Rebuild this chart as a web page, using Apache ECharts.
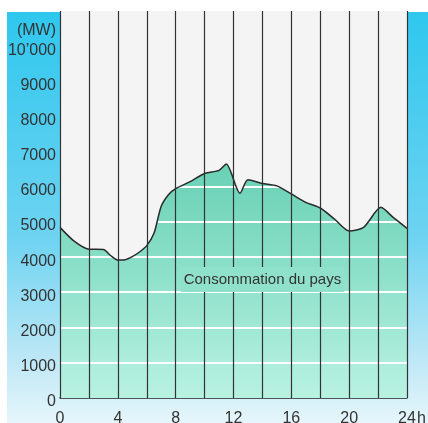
<!DOCTYPE html>
<html>
<head>
<meta charset="utf-8">
<script src="https://cdn.jsdelivr.net/npm/echarts@6/dist/echarts.min.js"></script>
<style>
  html, body { margin: 0; padding: 0; background: #fff; }
  #chart { width: 428px; height: 423px; }
</style>
</head>
<body>
<div id="chart"></div>
<script>
// hour of day -> national consumption in MW
const hours = [0, 1, 2, 3, 3.5, 4, 4.5, 5, 5.5, 6, 6.5, 7, 7.5, 8, 9, 10, 11, 11.5, 12.45, 13, 14, 15, 16, 17, 18, 19, 20, 21, 22.2, 23, 24];
const power = [4850, 4450, 4230, 4220, 4050, 3920, 3930, 4020, 4150, 4330, 4680, 5450, 5780, 5950, 6150, 6380, 6470, 6650, 5820, 6200, 6100, 6030, 5800, 5560, 5400, 5080, 4750, 4850, 5420, 5150, 4820];
const hourLines = [0, 2, 4, 6, 8, 10, 12, 14, 16, 18, 20, 22, 24];
const bandValues = [1000, 2000, 3000, 4000, 5000, 6000];
const areaLabel = "Consommation du pays";
const labelAt = [14, 3370];

const fillTop = [100, 207, 178];   // teal near 7000
const fillBottom = [184, 242, 226]; // pale near 0

function mix(t) {
  const c = fillTop.map((v, i) => Math.round(v + (fillBottom[i] - v) * t));
  return "rgb(" + c.join(",") + ")";
}

const chart = echarts.init(document.getElementById("chart"));
const font = "'Liberation Sans', Arial, sans-serif";

chart.setOption({
  animation: false,
  backgroundColor: "#fff",
  grid: {
    left: 60, right: 21, top: 11, bottom: 25,
    outerBoundsMode: "none", containLabel: false,
    show: true, backgroundColor: "#f4f4f4", borderWidth: 0
  },
  graphic: [{
    type: "rect", z: -10, silent: true,
    shape: { x: 7, y: 12, width: 421, height: 411 },
    style: {
      fill: new echarts.graphic.LinearGradient(0, 0, 0, 1, [
        { offset: 0, color: "#2fc7ee" },
        { offset: 0.55, color: "#6ed3f1" },
        { offset: 0.85, color: "#bfe8f6" },
        { offset: 1, color: "#e6f6fb" }
      ])
    }
  }],
  xAxis: {
    type: "value", min: 0, max: 24, interval: 2,
    name: "h", nameLocation: "end", nameGap: 10, nameMoveOverlap: false,
    nameTextStyle: { color: "#333", fontSize: 16, fontFamily: font, verticalAlign: "top", padding: [13, 0, 0, 0] },
    axisLine: { show: true, lineStyle: { color: "#222", width: 1.5 } },
    axisTick: { show: false },
    splitLine: { show: false },
    axisLabel: {
      color: "#333", fontSize: 16, fontFamily: font, margin: 13,
      formatter: v => (v % 4 === 0 ? String(v) : "")
    }
  },
  yAxis: {
    type: "value", min: 0, max: 11000, interval: 1000,
    name: "(MW)", nameLocation: "end", nameGap: -20, nameMoveOverlap: false,
    nameTextStyle: { color: "#333", fontSize: 16, fontFamily: font, align: "right", verticalAlign: "middle", padding: [0, 4, 0, 0] },
    axisLine: { show: false },
    axisTick: { show: false },
    splitLine: { show: false },
    axisLabel: {
      color: "#333", fontSize: 16, fontFamily: font, margin: 4,
      verticalAlign: "top", lineHeight: 8,
      formatter: v => (v === 11000 ? "" : v === 10000 ? "10\u2019000" : String(v))
    }
  },
  series: [{
    type: "line",
    data: hours.map((h, i) => [h, power[i]]),
    smooth: 0.25,
    symbol: "none",
    lineStyle: { color: "#2a2a2a", width: 1.5 },
    areaStyle: { color: "#8fdcc6", opacity: 1 },
    markLine: {
      silent: true, symbol: "none", label: { show: false },
      lineStyle: { color: "#333", width: 1.2, type: "solid" },
      data: hourLines.map(h => ({ xAxis: h }))
    }
  }]
});

// white bands at each 1000 MW, only inside the filled area
const yZero = chart.convertToPixel({ yAxisIndex: 0 }, 0);
const yTop = chart.convertToPixel({ yAxisIndex: 0 }, 7000);
const span = yZero - yTop;
const stops = [{ offset: 0, color: mix(0) }];
bandValues.slice().reverse().forEach(v => {
  const y = chart.convertToPixel({ yAxisIndex: 0 }, v);
  const a = (y - 1 - yTop) / span, b = (y + 1 - yTop) / span;
  stops.push({ offset: a, color: mix(a) });
  stops.push({ offset: a, color: "#ffffff" });
  stops.push({ offset: b, color: "#ffffff" });
  stops.push({ offset: b, color: mix(b) });
});
stops.push({ offset: 1, color: mix(1) });

const lp = chart.convertToPixel({ xAxisIndex: 0, yAxisIndex: 0 }, labelAt);
const lt = (lp[1] - yTop) / span;

chart.setOption({
  series: [{
    areaStyle: { color: new echarts.graphic.LinearGradient(0, yTop, 0, yZero, stops, true) }
  }],
  graphic: [{}, {
    type: "text", z: 100, silent: true,
    x: lp[0], y: lp[1],
    style: {
      text: areaLabel, fill: "#333", fontSize: 15, fontFamily: font,
      align: "center", verticalAlign: "middle",
      backgroundColor: mix(lt), padding: [5, 3]
    }
  }]
});
</script>
</body>
</html>
